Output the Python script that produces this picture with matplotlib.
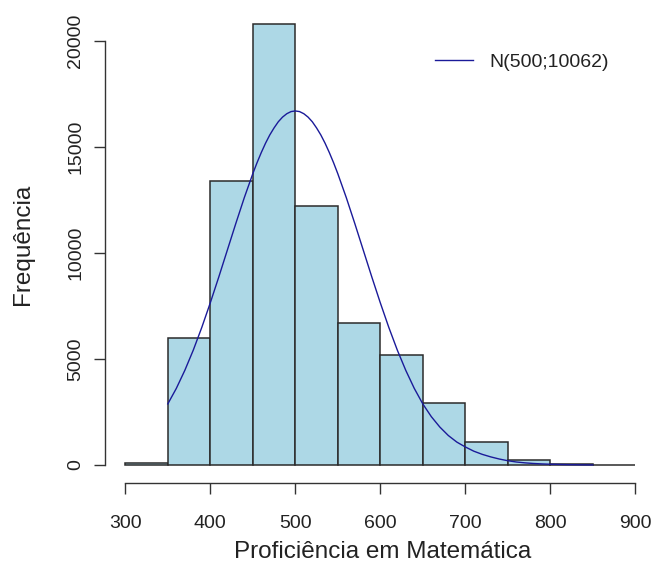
import numpy as np
import matplotlib
matplotlib.use("Agg")
import matplotlib.pyplot as plt

plt.rcParams["font.family"] = ["Liberation Sans", "DejaVu Sans"]

# histogram bins (width 50) and counts
bin_edges = [300, 350, 400, 450, 500, 550, 600, 650, 700, 750, 800, 850, 900]
counts = [90, 6000, 13400, 20800, 12200, 6680, 5180, 2920, 1060, 230, 40, 10]

# fitted curve
curve_x = [350, 360, 370, 380, 390, 400, 410, 420, 430, 440, 450, 455, 460, 465, 470,
           475, 480, 485, 490, 495, 500, 505, 510, 515, 520, 525, 530, 535, 540, 545,
           550, 560, 570, 580, 590, 600, 610, 620, 630, 640, 650, 660, 670, 680, 690,
           700, 710, 720, 730, 740, 750, 760, 770, 780, 790, 800, 810, 820, 830, 840, 850]
curve_y = [2880, 3610, 4460, 5420, 6490, 7650, 8870, 10130, 11390, 12610, 13740, 14260,
           14740, 15180, 15570, 15900, 16190, 16410, 16570, 16670, 16700, 16670, 16570,
           16410, 16190, 15900, 15570, 15180, 14740, 14260, 13740, 12610, 11390, 10130,
           8870, 7650, 6490, 5420, 4460, 3610, 2880, 2280, 1790, 1390, 1080, 850, 650,
           500, 380, 280, 200, 140, 100, 70, 50, 35, 25, 15, 10, 5, 2]

legend_label = "N(500;10062)"
xlabel = "Proficiência em Matemática"
ylabel = "Frequência"

W, H = 653, 576
fig = plt.figure(figsize=(W / 100, H / 100), dpi=100)
ax = fig.add_axes([104.9 / W, 1 - 482.6 / H, 550.8 / W, 476.2 / H])

edge = "#2b2b2b"
lefts = bin_edges[:-1]
widths = np.diff(bin_edges)
ax.bar(lefts, counts, width=widths, align="edge", color="#add8e6",
       edgecolor=edge, linewidth=1.1)
ax.plot(curve_x, curve_y, color="#1a1a99", linewidth=1.0, label=legend_label)

ax.set_xlim(276, 924)
ax.set_ylim(-832, 21632)

for s in ["top", "right"]:
    ax.spines[s].set_visible(False)
for s in ["bottom", "left"]:
    ax.spines[s].set_color("#333333")
    ax.spines[s].set_linewidth(1.0)
ax.spines["bottom"].set_bounds(300, 900)
ax.spines["left"].set_bounds(0, 20000)

ax.set_xticks([300, 400, 500, 600, 700, 800, 900])
ax.set_yticks([0, 5000, 10000, 15000, 20000])
ax.tick_params(axis="both", direction="out", length=8, width=1.0, color="#333333",
               labelsize=14, labelcolor="#222222")
ax.tick_params(axis="x", pad=15)
ax.tick_params(axis="y", pad=7)
for lab in ax.get_yticklabels():
    lab.set_rotation(90)
    lab.set_va("center")

fig.text(383 / W, 1 - 552 / H, xlabel, ha="center", va="center",
         fontsize=17.5, color="#222222")
fig.text(23 / W, 1 - 244 / H, ylabel, ha="center", va="center", rotation=90,
         fontsize=17.5, color="#222222")

ax.legend(loc="center left", bbox_to_anchor=(435 / W, 1 - 62 / H),
          bbox_transform=fig.transFigure, frameon=False, fontsize=14,
          handlelength=1.95, handletextpad=0.85, borderpad=0, borderaxespad=0,
          labelcolor="#222222")

fig.savefig("out.png", dpi=100)
